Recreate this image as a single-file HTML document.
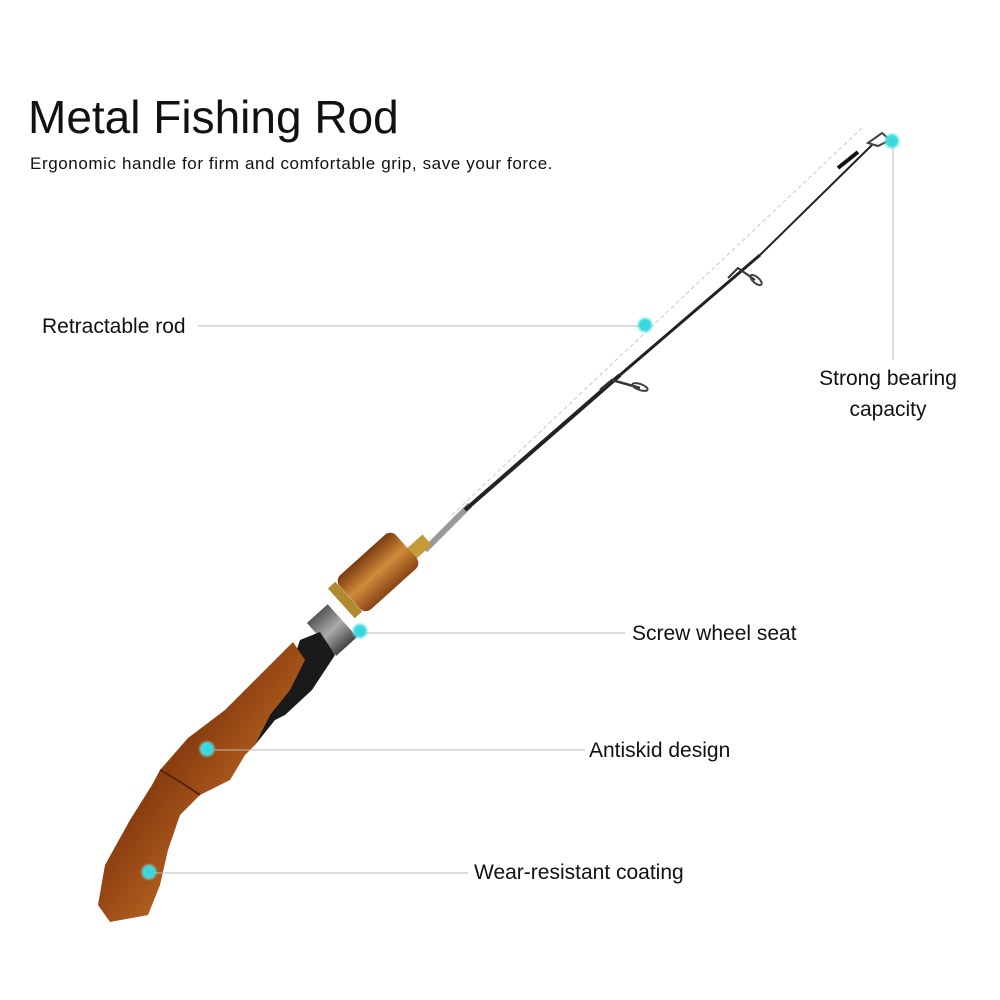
<!DOCTYPE html>
<html><head><meta charset="utf-8"><style>
html,body{margin:0;padding:0;background:#fff;}
svg{display:block}
text{font-family:"Liberation Sans",sans-serif;fill:#111}
</style></head><body>
<svg width="1000" height="1000" viewBox="0 0 1000 1000" xmlns="http://www.w3.org/2000/svg">
<defs>
<radialGradient id="dot"><stop offset="0" stop-color="#2fd6dc"/><stop offset="0.6" stop-color="#3fdbe0"/><stop offset="1" stop-color="#8fe9ec" stop-opacity="0"/></radialGradient>
<linearGradient id="wood" x1="0" y1="0" x2="1" y2="1"><stop offset="0" stop-color="#b9621e"/><stop offset="0.4" stop-color="#8a3e10"/><stop offset="0.7" stop-color="#c06a22"/><stop offset="1" stop-color="#6e2f0c"/></linearGradient>
<linearGradient id="fore" x1="0" y1="0" x2="0" y2="1"><stop offset="0" stop-color="#7a3a10"/><stop offset="0.5" stop-color="#d08a3a"/><stop offset="1" stop-color="#8a4414"/></linearGradient>
<linearGradient id="metal" x1="0" y1="0" x2="0" y2="1"><stop offset="0" stop-color="#555"/><stop offset="0.5" stop-color="#aaa"/><stop offset="1" stop-color="#444"/></linearGradient>
</defs>
<text x="28" y="133" font-size="46">Metal Fishing Rod</text>
<text x="30" y="169" font-size="17" letter-spacing="0.6">Ergonomic handle for firm and comfortable grip, save your force.</text>

<line x1="452" y1="515" x2="862" y2="128" stroke="#c8c8c8" stroke-width="1" stroke-dasharray="4 3"/>
<line x1="425" y1="550" x2="470" y2="505" stroke="#999" stroke-width="6"/>
<line x1="465" y1="510" x2="620" y2="375" stroke="#222" stroke-width="4"/>
<line x1="620" y1="375" x2="760" y2="255" stroke="#222" stroke-width="3"/>
<line x1="760" y1="255" x2="872" y2="145" stroke="#222" stroke-width="2"/>
<line x1="838" y1="168" x2="858" y2="152" stroke="#111" stroke-width="4"/>
<path d="M868 143 L882 133 L890 140 L878 146 Z" fill="none" stroke="#444" stroke-width="2"/>
<path d="M600 390 L612 380 L640 388" fill="none" stroke="#333" stroke-width="2.5"/>
<ellipse cx="640" cy="387" rx="8" ry="3" fill="none" stroke="#444" stroke-width="2" transform="rotate(20 640 387)"/>
<path d="M728 278 L738 268 L755 280" fill="none" stroke="#333" stroke-width="2"/>
<ellipse cx="756" cy="280" rx="7" ry="3" fill="none" stroke="#444" stroke-width="2" transform="rotate(40 756 280)"/>

<!-- brass ferrule -->
<rect x="408" y="540" width="22" height="14" fill="#c59a3a" transform="rotate(-42 419 547)"/>
<!-- fore grip -->
<rect x="340" y="549" width="76" height="46" rx="8" fill="url(#fore)" transform="rotate(-42 378 572)"/>
<!-- brass ring -->
<rect x="340" y="580" width="10" height="40" fill="#b08a30" transform="rotate(-42 345 600)"/>
<!-- metal seat -->
<rect x="318" y="608" width="28" height="44" fill="url(#metal)" transform="rotate(-42 332 630)"/>
<!-- black seat -->
<path d="M300 640 L320 632 L335 655 L312 690 L285 715 L275 720 L255 745 L245 742 L268 705 L290 670 Z" fill="#1a1a1a"/>
<!-- wood handle -->
<path d="M293 642 L305 660 L290 690 L270 715 L255 745 L245 755 L230 780 L200 795 L180 815 L168 850 L160 885 L148 915 L110 922 L98 905 L105 865 L130 820 L152 785 L160 770 L188 738 L225 710 L255 680 Z" fill="url(#wood)"/>
<path d="M160 770 Q175 778 200 795" stroke="#5a2408" stroke-width="2" fill="none"/>

<line x1="198" y1="326" x2="640" y2="326" stroke="#bbb" stroke-width="1"/>
<line x1="893" y1="145" x2="893" y2="360" stroke="#bbb" stroke-width="1"/>
<line x1="360" y1="633" x2="625" y2="633" stroke="#bbb" stroke-width="1"/>
<line x1="215" y1="750" x2="585" y2="750" stroke="#bbb" stroke-width="1"/>
<line x1="155" y1="873" x2="468" y2="873" stroke="#bbb" stroke-width="1"/>
<circle cx="645" cy="325" r="9" fill="url(#dot)"/>
<circle cx="892" cy="141" r="9" fill="url(#dot)"/>
<circle cx="360" cy="631" r="9" fill="url(#dot)"/>
<circle cx="207" cy="749" r="9" fill="url(#dot)"/>
<circle cx="149" cy="872" r="9" fill="url(#dot)"/>

<text x="42" y="333" font-size="21">Retractable rod</text>
<text x="888" y="385" font-size="21" text-anchor="middle">Strong bearing</text>
<text x="888" y="416" font-size="21" text-anchor="middle">capacity</text>
<text x="632" y="640" font-size="21">Screw wheel seat</text>
<text x="589" y="757" font-size="21">Antiskid design</text>
<text x="474" y="879" font-size="21">Wear-resistant coating</text>
</svg>
</body></html>
